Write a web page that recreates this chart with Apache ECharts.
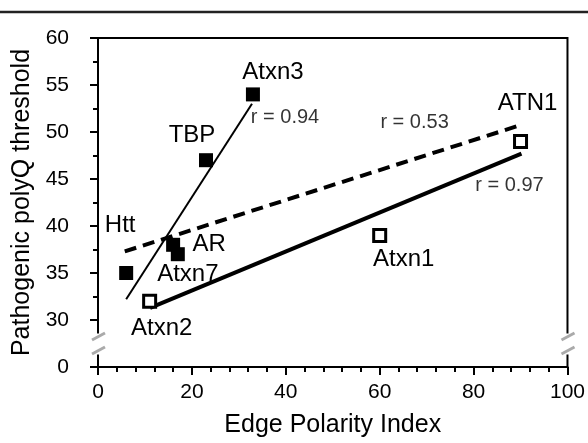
<!DOCTYPE html>
<html>
<head>
<meta charset="utf-8">
<script src="https://cdn.jsdelivr.net/npm/echarts@6/dist/echarts.min.js"></script>
<style>
  html, body { margin: 0; padding: 0; background: #fff; }
  #chart { width: 588px; height: 443px; }
</style>
</head>
<body>
<div id="chart"></div>
<script>
// filled squares
const filledNames = ['Htt', 'AR', 'Atxn7', 'TBP', 'Atxn3']
const filledX = [6, 16, 17, 23, 33]
const filledY = [35, 38, 37, 47, 54]
// open squares
const openNames = ['Atxn2', 'Atxn1', 'ATN1']
const openX = [11, 60, 90]
const openY = [32, 39, 49]
// fit lines (endpoints)
const fitFilled = [[6, 32.2], [32.8, 53.0]]
const fitAll = [[5.7, 37.3], [89.8, 50.7]]
const fitOpen = [[11.1, 31.3], [90.2, 47.7]]
const rLabels = ['r = 0.94', 'r = 0.53', 'r = 0.97']
const yTickLabels = { 25: '0' } // axis break: 0 shown below 30

// label offsets in px (style only)
const filledOffsets = [[-6, -48], [36, 0], [10, 20], [-14, -25], [20, -22]]
const openOffsets = [[12, 27], [24, 24], [7, -38]]
const rOffsets = [[33, 14], [-105, -3], [-12, 32]]

const FONT = 'Liberation Sans, Arial, sans-serif'
const chart = echarts.init(document.getElementById('chart'))

const axisCommon = {
  axisLine: { lineStyle: { color: '#000', width: 2 } },
  axisTick: { length: 8, lineStyle: { color: '#000', width: 2 } },
  minorTick: { show: true, length: 5, lineStyle: { color: '#000', width: 2 } },
  splitLine: { show: false },
  minorSplitLine: { show: false }
}

const pointLabel = (offset) => ({
  show: true,
  position: 'inside',
  offset: offset,
  color: '#000',
  fontSize: 24,
  fontFamily: FONT
})

const option = {
  animation: false,
  backgroundColor: '#fff',
  grid: { left: 98, right: 20, top: 38, bottom: 75, show: true, borderColor: '#000', borderWidth: 2 },
  xAxis: Object.assign({}, axisCommon, {
    type: 'value',
    min: 0,
    max: 100,
    interval: 20,
    minorTick: Object.assign({}, axisCommon.minorTick, { splitNumber: 5 }),
    axisLabel: { fontSize: 21, color: '#000', margin: 15, fontFamily: FONT },
    name: 'Edge Polarity Index',
    nameLocation: 'middle',
    nameGap: 46,
    nameTextStyle: { fontSize: 25, color: '#000', fontFamily: FONT }
  }),
  yAxis: Object.assign({}, axisCommon, {
    type: 'value',
    min: 25,
    max: 60,
    interval: 5,
    minorTick: Object.assign({}, axisCommon.minorTick, { splitNumber: 2 }),
    axisLabel: {
      fontSize: 21, color: '#000', margin: 29, fontFamily: FONT,
      formatter: (v) => (yTickLabels[v] !== undefined ? yTickLabels[v] : String(v))
    },
    name: 'Pathogenic polyQ threshold',
    nameLocation: 'middle',
    nameGap: 56,
    nameTextStyle: { fontSize: 25, color: '#000', fontFamily: FONT }
  }),
  series: [
    {
      type: 'line',
      data: fitFilled,
      symbol: 'none',
      lineStyle: { color: '#000', width: 2 },
      z: 2
    },
    {
      type: 'line',
      data: fitAll,
      symbol: 'none',
      lineStyle: { color: '#000', width: 4, type: [12, 7] },
      z: 2
    },
    {
      type: 'line',
      data: fitOpen,
      symbol: 'none',
      lineStyle: { color: '#000', width: 4 },
      z: 2
    },
    {
      type: 'scatter',
      symbol: 'rect',
      symbolSize: 14,
      itemStyle: { color: '#000', opacity: 1 },
      data: filledNames.map((n, i) => ({
        name: n,
        value: [filledX[i], filledY[i]],
        label: pointLabel(filledOffsets[i])
      })),
      label: { formatter: '{b}' },
      z: 3
    },
    {
      type: 'scatter',
      symbol: 'rect',
      symbolSize: 12,
      itemStyle: { color: '#fff', borderColor: '#000', borderWidth: 3, opacity: 1 },
      data: openNames.map((n, i) => ({
        name: n,
        value: [openX[i], openY[i]],
        label: pointLabel(openOffsets[i])
      })),
      label: { formatter: '{b}' },
      z: 3
    },
    {
      type: 'scatter',
      symbolSize: 1,
      itemStyle: { color: 'rgba(0,0,0,0)' },
      silent: true,
      data: [fitFilled[1], fitAll[1], fitOpen[1]].map((p, i) => ({
        name: rLabels[i],
        value: p,
        label: {
          show: true, position: 'inside', offset: rOffsets[i],
          color: '#000', fontSize: 20, fontFamily: FONT, formatter: '{b}'
        }
      })),
      z: 4
    }
  ]
}

chart.setOption(option)

// decorations: top rule and the axis break marks
function drawBreaks() {
  const leftPt = chart.convertToPixel({ gridIndex: 0 }, [0, 27.5])
  const rightPt = chart.convertToPixel({ gridIndex: 0 }, [100, 27.5])
  const els = [{
    type: 'line',
    shape: { x1: 0, y1: 12, x2: 588, y2: 12 },
    style: { stroke: '#222', lineWidth: 2.5 },
    z: 100
  }]
  ;[leftPt, rightPt].forEach((p) => {
    els.push({
      type: 'rect',
      shape: { x: p[0] - 8, y: p[1] - 10, width: 16, height: 21 },
      style: { fill: '#fff' },
      z: 100
    })
    ;[-7, 7].forEach((dy) => {
      els.push({
        type: 'line',
        shape: { x1: p[0] - 6, y1: p[1] + dy + 3.5, x2: p[0] + 7, y2: p[1] + dy - 3.5 },
        style: { stroke: '#aaa', lineWidth: 3 },
        z: 101
      })
    })
  })
  chart.setOption({ graphic: els })
}
drawBreaks()
</script>
</body>
</html>
